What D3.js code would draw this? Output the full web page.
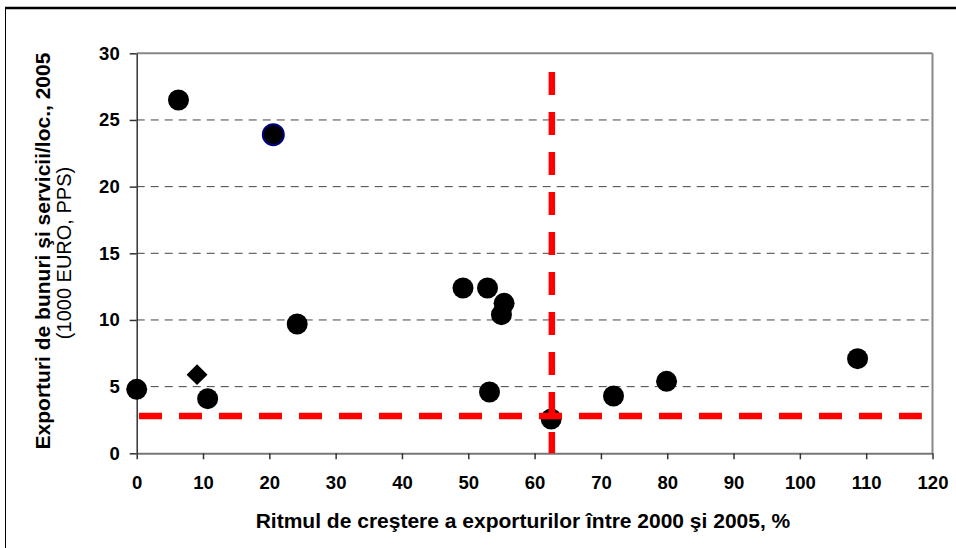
<!DOCTYPE html>
<html><head><meta charset="utf-8">
<script src="https://cdn.jsdelivr.net/npm/d3@7"></script>
<style>body{margin:0;background:#fff;}svg{display:block;font-family:"Liberation Sans",Arial,sans-serif;}</style>
</head><body>
<svg id="c" width="956" height="548"></svg>
<script>
// Data
const circleX = [6.3, 20.6, 24.2, 0.0, 10.7, 49.2, 52.9, 55.4, 55.0, 53.2, 62.5, 71.9, 79.9, 108.7];
const circleY = [26.5, 23.9, 9.7, 4.8, 4.1, 12.4, 12.4, 11.25, 10.4, 4.6, 2.57, 4.3, 5.4, 7.1];
const circleStroke = ["none", "navy", "none", "none", "none", "none", "none", "none", "none", "none", "none", "none", "none", "none"];
const diamondX = [9.1];
const diamondY = [5.9];
const avgX = 62.6;   // vertical red reference line
const avgY = 2.8;    // horizontal red reference line
const xTicks = [0,10,20,30,40,50,60,70,80,90,100,110,120];
const yTicks = [0,5,10,15,20,25,30];
const xTitle = "Ritmul de creştere a exporturilor între 2000 şi 2005, %";
const yTitle = "Exporturi de bunuri şi servicii/loc., 2005";
const ySub = "(1000 EURO, PPS)";

const FONT = "'Liberation Sans',Arial,sans-serif";
const svg = d3.select("#c");
const L = 136.7, R = 932.5, T = 53.3, B = 453.3;
const x = d3.scaleLinear().domain([0,120]).range([L,R]);
const y = d3.scaleLinear().domain([0,30]).range([B,T]);

// outer frame
svg.append("line").attr("x1",5).attr("x2",956).attr("y1",8).attr("y2",8).attr("stroke","#000").attr("stroke-width",2.5);
svg.append("line").attr("x1",5.5).attr("x2",5.5).attr("y1",8).attr("y2",548).attr("stroke","#000").attr("stroke-width",1);

// gridlines
svg.append("g").selectAll("line").data(yTicks.filter(d=>d>0 && d<30)).join("line")
  .attr("x1",L).attr("x2",R).attr("y1",d=>y(d)).attr("y2",d=>y(d))
  .attr("stroke","#444").attr("stroke-width",1).attr("stroke-dasharray","8,6");

// plot border top & right
svg.append("line").attr("x1",L).attr("x2",R).attr("y1",T).attr("y2",T).attr("stroke","#888").attr("stroke-width",2);
svg.append("line").attr("x1",R).attr("x2",R).attr("y1",T).attr("y2",B).attr("stroke","#888").attr("stroke-width",2);

// axes
const xAxis = svg.append("g").attr("transform",`translate(0,${B})`)
  .call(d3.axisBottom(x).tickValues(xTicks).tickSize(6).tickPadding(17).tickSizeOuter(0));
xAxis.select(".domain").attr("stroke","#777").attr("stroke-width",2);
xAxis.selectAll(".tick line").attr("stroke","#333").attr("stroke-width",1.5);
xAxis.selectAll("text").attr("font-size",18.5).attr("font-weight","bold").attr("fill","#000").attr("font-family",FONT);

const yAxis = svg.append("g").attr("transform",`translate(${L},0)`)
  .call(d3.axisLeft(y).tickValues(yTicks).tickSize(7).tickPadding(10).tickSizeOuter(0));
yAxis.select(".domain").attr("stroke","#333").attr("stroke-width",1.5);
yAxis.selectAll(".tick line").attr("stroke","#333").attr("stroke-width",1.5);
yAxis.selectAll("text").attr("font-size",18.5).attr("font-weight","bold").attr("fill","#000").attr("font-family",FONT);

// points
const pts = circleX.map((v,i)=>({x:v,y:circleY[i],s:circleStroke[i]}));
svg.append("g").selectAll("circle").data(pts).join("circle")
  .attr("cx",d=>x(d.x)).attr("cy",d=>y(d.y)).attr("r",10.5)
  .attr("fill","#000").attr("stroke",d=>d.s).attr("stroke-width",2);
const dm = diamondX.map((v,i)=>({x:v,y:diamondY[i]}));
svg.append("g").selectAll("path").data(dm).join("path")
  .attr("d",d3.symbol().type(d3.symbolSquare).size(220))
  .attr("transform",d=>`translate(${x(d.x)},${y(d.y)}) rotate(45)`)
  .attr("fill","#000");

// red reference lines
svg.append("line").attr("x1",x(0.35)).attr("x2",x(118.4)).attr("y1",y(avgY)).attr("y2",y(avgY))
  .attr("stroke","#ff0000").attr("stroke-width",6.5).attr("stroke-dasharray","23,17");
svg.append("line").attr("x1",x(avgX)).attr("x2",x(avgX)).attr("y1",y(28.6)).attr("y2",y(0))
  .attr("stroke","#ff0000").attr("stroke-width",6.5).attr("stroke-dasharray","23,17");

// titles
svg.append("text").attr("x",523).attr("y",527.5).attr("text-anchor","middle")
  .attr("font-size",21).attr("font-weight","bold").text(xTitle);
svg.append("text").attr("transform","translate(50,251) rotate(-90)").attr("text-anchor","middle")
  .attr("font-size",21).attr("font-weight","bold").text(yTitle);
svg.append("text").attr("transform","translate(71,253) rotate(-90)").attr("text-anchor","middle")
  .attr("font-size",20).text(ySub);
</script>
</body></html>
